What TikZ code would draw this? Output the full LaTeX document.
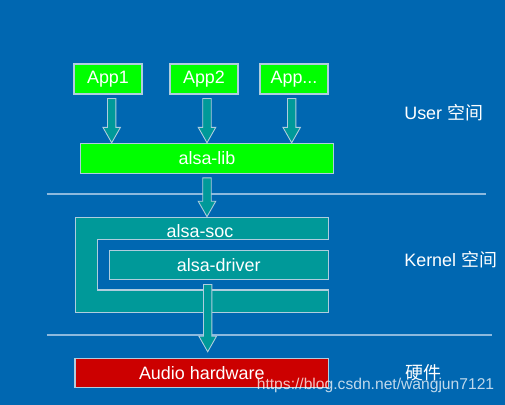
\documentclass[tikz,border=0pt]{standalone}
\usepackage{fontspec}
\setmainfont{Liberation Sans}
\newfontfamily\cjkfont{Noto Sans CJK SC}
\usetikzlibrary{calc,positioning}
\definecolor{slidebg}{RGB}{0,103,177}
\definecolor{tealfill}{RGB}{0,153,153}
\definecolor{appgreen}{RGB}{0,255,0}
\definecolor{hwred}{RGB}{204,0,0}
\definecolor{edgegrey}{RGB}{175,205,222}
\definecolor{sepline}{RGB}{140,185,222}
\tikzset{
    layerbox/.style={draw=edgegrey, line width=0.6pt, text=white, inner sep=0pt, font=\fontsize{10.2}{12}\selectfont},
    appbox/.style={layerbox, fill=appgreen, minimum width=1.36cm, minimum height=0.6cm},
    blockarrow/.style={draw=edgegrey, fill=tealfill, line width=0.5pt},
    sidelabel/.style={text=white, anchor=west, inner sep=0pt, font=\fontsize{10.2}{12}\selectfont},
}
% vertical block arrow from #1 down to #2
\newcommand{\blockarr}[2]{%
    \draw[blockarrow] let \p1=(#1), \p2=(#2) in
    (\x1-2.4pt,\y1) -- (\x1+2.4pt,\y1) -- (\x1+2.4pt,\y2+8.8pt) -- (\x1+5pt,\y2+8.8pt)
    -- (\x1,\y2) -- (\x1-5pt,\y2+8.8pt) -- (\x1-2.4pt,\y2+8.8pt) -- cycle;}

\begin{document}
\begin{tikzpicture}[x=0.02cm, y=-0.02cm]
    \fill[slidebg] (0,0) rectangle (505,405);
    \useasboundingbox (0,0) rectangle (505,405);
    % separators
    \draw[sepline, line width=0.7pt] (46.7,194) -- (485.7,194);
    \draw[sepline, line width=0.7pt] (46.7,335) -- (491.7,335);
    % user space
    \node[appbox] (app1) at (108,79) {App1};
    \node[appbox] (app2) at (204,79) {App2};
    \node[appbox] (appn) at (294,79) {App...};
    \node[layerbox, fill=appgreen, minimum width=5.05cm, minimum height=0.6cm] (lib) at (207,158.3) {alsa-lib};
    % kernel space
    \draw[layerbox, fill=tealfill] (75.7,217.7) -- (328.3,217.7) -- (328.3,239.3) -- (97.3,239.3)
        -- (97.3,290) -- (328.3,290) -- (328.3,312.7) -- (75.7,312.7) -- cycle;
    \coordinate (soctop) at (207,216.7);
    \node[text=white, font=\fontsize{10.2}{12}\selectfont] (soc) at (200,231.5) {alsa-soc};
    \node[layerbox, fill=tealfill, minimum width=4.386cm, minimum height=0.586cm] (driver) at (218.7,265.3) {alsa-driver};
    % hardware
    \node[layerbox, fill=hwred, minimum width=5.074cm, minimum height=0.58cm] (hw) at (201.8,372.8) {Audio hardware};
    % arrows
    \coordinate (a1) at ($(app1.south)+(3.7,4)$);
    \coordinate (a2) at ($(app2.south)+(3,4)$);
    \coordinate (a3) at ($(appn.south)+(-2.3,4)$);
    \coordinate (a4) at ($(lib.south)+(0,4)$);
    \coordinate (a5) at ($(driver.south)+(-11,4)$);
    \coordinate (hwtop) at ($(hw.north)+(0,-6)$);
    \blockarr{a1}{a1 |- lib.north}
    \blockarr{a2}{a2 |- lib.north}
    \blockarr{a3}{a3 |- lib.north}
    \blockarr{a4}{soctop}
    \blockarr{a5}{a5 |- hwtop}
    % side labels
    \node[sidelabel] (userlbl) at (404,113) {User {\cjkfont 空间}};
    \node[sidelabel] (kernlbl) at (404,260) {Kernel {\cjkfont 空间}};
    \node[sidelabel] (hwlbl) at (405,372.7) {\cjkfont 硬件};
    \node[sidelabel, opacity=0.75, font=\fontsize{8.9}{11}\selectfont] (mark) at (256.5,385.5) {https://blog.csdn.net/wangjun7121};
\end{tikzpicture}
\end{document}
